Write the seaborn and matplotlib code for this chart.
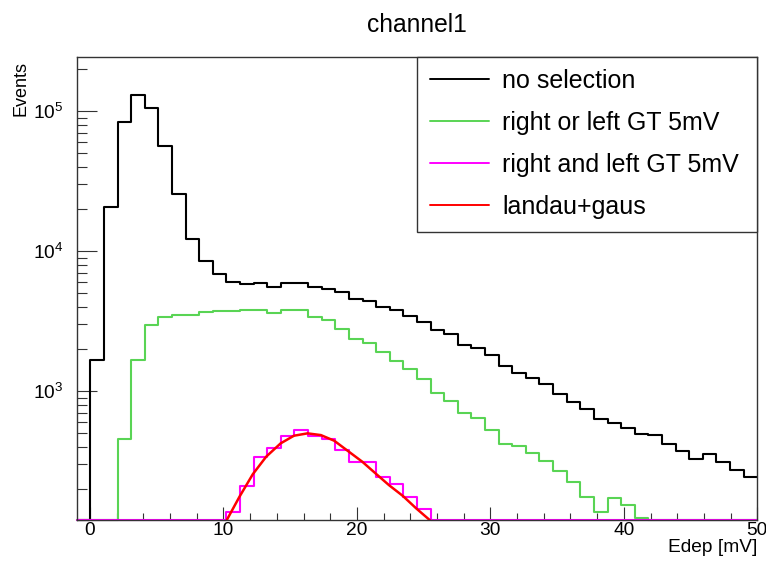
import numpy as np
import pandas as pd
import matplotlib
matplotlib.use("Agg")
import matplotlib.pyplot as plt
from matplotlib.lines import Line2D
from matplotlib.ticker import LogLocator, NullFormatter, MultipleLocator
import seaborn as sns

# 50 bins of width 1.02 mV spanning -1 .. 50 mV
n_bins = 50
edep_range = (-1.0, 50.0)

no_selection = [
    0, 1680, 20700, 83900, 130000, 105600, 56200, 25500, 12300, 8450,
    6880, 6040, 5810, 5940, 5510, 5880, 5940, 5510, 5350, 5070,
    4520, 4420, 3980, 3790, 3430, 3130, 2720, 2550, 2130, 2040,
    1810, 1510, 1340, 1250, 1120, 952, 840, 740, 628, 594,
    541, 490, 482, 418, 375, 325, 355, 313, 273, 242,
]
right_or_left = [
    0, 0, 0, 456, 1680, 2960, 3360, 3470, 3490, 3650,
    3740, 3765, 3770, 3810, 3610, 3790, 3770, 3360, 3210, 2800,
    2340, 2210, 1895, 1650, 1430, 1215, 973, 853, 700, 645,
    527, 416, 405, 359, 318, 270, 225, 174, 137, 171,
    153, 123, 0, 0, 0, 0, 0, 0, 0, 0,
]
right_and_left = [
    0, 0, 0, 0, 0, 0, 0, 0, 0, 0,
    0, 137, 210, 336, 390, 477, 527, 477, 456, 379,
    313, 313, 244, 217, 176, 143, 118, 0, 0, 0,
    0, 0, 0, 0, 0, 0, 0, 0, 0, 0,
    0, 0, 0, 0, 0, 0, 0, 0, 0, 0,
]

# landau+gaus fit curve, sampled
fit_x = [10.25, 11.2, 12.2, 13.2, 14.28, 15.28, 16.3, 17.3, 18.3, 19.3,
         20.4, 21.4, 22.4, 23.45, 24.45, 25.45]
fit_y = [120, 176, 255, 340, 423, 480, 499, 485, 442, 375,
         313, 258, 213, 178, 145, 120]

labels = ["no selection", "right or left GT 5mV", "right and left GT 5mV", "landau+gaus"]
colors = ["#000000", "#59d454", "#ff00ff", "#ff0000"]

y_min, y_max = 120, 2.45e5

sns.set_theme(style="white")
plt.rcParams["font.family"] = ["Liberation Sans", "DejaVu Sans"]
plt.rcParams["mathtext.fontset"] = "custom"
plt.rcParams["mathtext.rm"] = "Liberation Sans"
plt.rcParams["mathtext.it"] = "Liberation Sans:italic"
plt.rcParams["text.color"] = "black"
plt.rcParams["axes.labelcolor"] = "black"
plt.rcParams["xtick.color"] = "black"
plt.rcParams["ytick.color"] = "black"

fig, ax = plt.subplots(figsize=(7.66, 5.66), dpi=100)
fig.subplots_adjust(left=0.1001, right=0.9886, bottom=0.0813, top=0.8998)

bin_edges = np.linspace(edep_range[0], edep_range[1], n_bins + 1)
centers = 0.5 * (bin_edges[:-1] + bin_edges[1:])
series = [no_selection, right_or_left, right_and_left]
for vals, col in zip(series, colors[:3]):
    df = pd.DataFrame({"edep": centers,
                       "events": np.clip(np.asarray(vals, float), y_min, None)})
    sns.histplot(data=df, x="edep", weights="events", bins=n_bins,
                 binrange=edep_range, element="step", fill=False,
                 color=col, linewidth=1.5, ax=ax)
    ax.lines[-1].set_clip_on(False)

fit_df = pd.DataFrame({"edep": fit_x, "events": fit_y})
sns.lineplot(data=fit_df, x="edep", y="events", sort=False, color=colors[3],
             linewidth=1.8, ax=ax)

ax.set_yscale("log")
ax.set_xlim(*edep_range)
ax.set_ylim(y_min, y_max)

ax.xaxis.set_major_locator(MultipleLocator(10))
ax.xaxis.set_minor_locator(MultipleLocator(2))
ax.yaxis.set_major_locator(LogLocator(base=10))
ax.yaxis.set_minor_locator(LogLocator(base=10, subs=np.arange(2, 10)))
ax.yaxis.set_minor_formatter(NullFormatter())

ax.tick_params(axis="x", which="major", direction="in", length=9.4, width=0.8,
               labelsize=13.8, pad=1.5, bottom=True, top=False, color="#333333")
ax.tick_params(axis="x", which="minor", direction="in", length=5, width=0.8,
               bottom=True, top=False, color="#333333")
ax.tick_params(axis="y", which="major", direction="in", length=14.4, width=0.8,
               labelsize=13.8, pad=9.5, left=True, right=False, color="#333333")
ax.tick_params(axis="y", which="minor", direction="in", length=7.2, width=0.8,
               left=True, right=False, color="#333333")

for sp in ax.spines.values():
    sp.set_color("#333333")
    sp.set_linewidth(1.0)

ax.set_title("channel1", fontsize=17.7, pad=17.8)
ax.set_xlabel("Edep [mV]", fontsize=13.8, loc="right", labelpad=0)
ax.set_ylabel("Events", fontsize=13, loc="top")
ax.yaxis.set_label_coords(-0.070, 0.99)

handles = [Line2D([], [], color=c, linewidth=1.4) for c in colors]
leg_x0 = 0.5007
leg = ax.legend(handles, labels, loc="upper left",
                bbox_to_anchor=(leg_x0, 0.0, 1.0 - leg_x0, 1.0), mode="expand",
                borderaxespad=0, fontsize=18, frameon=True, fancybox=False,
                framealpha=1, edgecolor="#333333", handlelength=2.36,
                handletextpad=0.52, labelspacing=0.72, borderpad=0.5)
leg.get_frame().set_linewidth(1.0)

fig.savefig("out.png", dpi=100, facecolor="white")
